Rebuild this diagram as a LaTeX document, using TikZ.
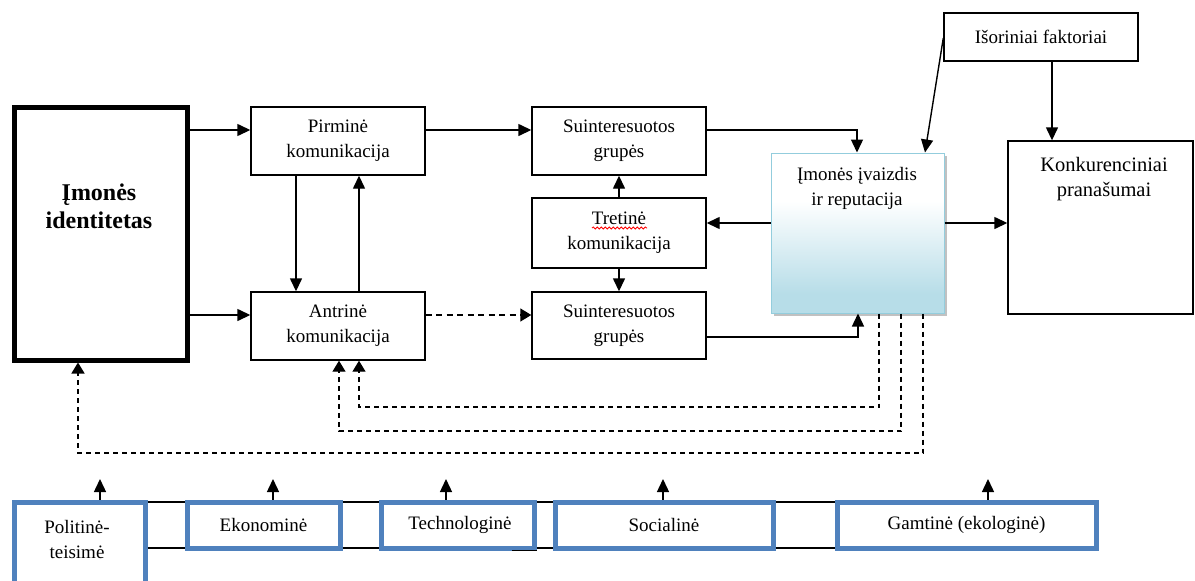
\documentclass[tikz,border=0pt]{standalone}
\usepackage{fontspec}
\setmainfont{Liberation Serif}
\usetikzlibrary{arrows.meta,shadows,decorations.pathmorphing}
\definecolor{frameblue}{HTML}{4F81BD}
\definecolor{imgblue}{HTML}{B7DDE8}
\definecolor{imgedge}{HTML}{93CDDD}
% pale-to-blue fill of the image box (white top, blue lower part)
\pgfdeclareverticalshading{imgfade}{100bp}{color(0bp)=(imgblue); color(31bp)=(imgblue); color(60bp)=(white); color(100bp)=(white)}
\tikzset{
  txt/.style={font=\fontsize{19pt}{25pt}\selectfont, align=center, inner sep=0pt},
  box/.style={txt, draw, line width=1.4pt, minimum width=174pt, minimum height=68pt},
  idbox/.style={draw, line width=5pt, minimum width=173pt, minimum height=253pt, inner sep=0pt},
  idtext/.style={font=\fontsize{24pt}{28pt}\selectfont\bfseries, align=center, inner sep=0pt},
  imgbox/.style={draw=imgedge, line width=1pt, shading=imgfade, minimum width=173pt, minimum height=160pt, inner sep=0pt,
    drop shadow={shadow xshift=3pt, shadow yshift=-3pt, fill=black!40, opacity=0.6}},
  envbox/.style={txt, draw=frameblue, line width=5pt, minimum height=46pt},
  arr/.style={line width=1.4pt, -{Triangle[length=13pt,width=12pt]}},
  darr/.style={line width=1.4pt, dash pattern=on 5pt off 4pt, -{Triangle[length=11pt,width=13pt]}},
  link/.style={line width=1.2pt},
  spell/.style={draw=red, line width=0.8pt, decorate, decoration={snake, segment length=4pt, amplitude=1.1pt}}
}
\begin{document}
\begin{tikzpicture}[x=1pt, y=-1pt]
\clip (0,0) rectangle (1195,581);
\fill[white] (0,0) rectangle (1195,581);

% identity block
\node[idbox] (id) at (100.5,233.5) {};
\node[idtext] (idt) at (99,206) {Įmonės\\identitetas};

% communication levels
\node[box] (prim) at (338,141) {Pirminė\\komunikacija};
\node[box] (antr) at (338,326) {Antrinė\\komunikacija};
\node[box] (sg1) at (619,141) {Suinteresuotos\\grupės};
\node[box, minimum height=70pt] (tret) at (619,233) {Tretinė\\komunikacija};
\node[box, minimum height=67pt] (sg2) at (619,325.5) {Suinteresuotos\\grupės};
\draw[spell] (592,228) -- (647,228);

% image and reputation
\node[imgbox] (img) at (857.5,233) {};
\node[txt] (imgt) at (857,188) {Įmonės įvaizdis\\ir reputacija};

% external factors and competitive advantages
\node[box, minimum width=194pt, minimum height=48pt] (isor) at (1041,37) {Išoriniai faktoriai};
\node[box, minimum width=185pt, minimum height=173pt] (konk) at (1100.5,227.5) {};
\node[txt, font=\fontsize{20.5pt}{25pt}\selectfont] (konkt) at (1104,179) {Konkurenciniai\\pranašumai};

% environment factors
\node[envbox, minimum width=131pt, minimum height=110pt] (pol) at (79.5,557) {};
\node[txt] (polt) at (77,539) {Politinė-\\teisimė};
\node[envbox, minimum width=153pt] (eko) at (263.5,525) {Ekonominė};
\node[envbox, minimum width=153pt] (tech) at (457.5,525) {\hspace*{5pt}Technologinė};
\node[envbox, minimum width=218pt] (soc) at (664,525) {Socialinė};
\node[envbox, minimum width=259pt] (gam) at (966.5,525) {Gamtinė (ekologinė)};

% links between the environment boxes
\foreach \a/\b in {pol/eko, eko/tech, tech/soc, soc/gam}{
  \draw[link] (\a.east |- 0,502) -- (\b.west |- 0,502);
  \draw[link] (\a.east |- 0,548) -- (\b.west |- 0,548);
}
\draw[link] (tech.south -| 512,0) -- (tech.south east);

% short arrows above the environment boxes
\coordinate (u1) at (100,479);
\coordinate (u2) at (273,479);
\coordinate (u3) at (446,479);
\coordinate (u4) at (663,479);
\coordinate (u5) at (988,479);
\draw[arr] (pol.north -| u1) -- (u1);
\draw[arr] (eko.north -| u2) -- (u2);
\draw[arr] (tech.north -| u3) -- (u3);
\draw[arr] (soc.north -| u4) -- (u4);
\draw[arr] (gam.north -| u5) -- (u5);

% main flow
\draw[arr] (id.east |- 0,130) -- (prim.west |- 0,130);
\draw[arr] (id.east |- 0,315) -- (antr.west |- 0,315);
\draw[arr] (prim.south -| 296,0) -- (antr.north -| 296,0);
\draw[arr] (antr.north -| 359,0) -- (prim.south -| 359,0);
\draw[arr] (prim.east |- 0,130) -- (sg1.west |- 0,130);
\draw[darr, dash pattern=on 6pt off 4.5pt] (antr.east |- 0,315) -- (sg2.west |- 0,315);
\draw[arr] (tret.north) -- (sg1.south);
\draw[arr] (tret.south) -- (sg2.north);
\draw[arr] (img.west |- 0,223) -- (tret.east |- 0,223);
\draw[arr] (sg1.east |- 0,130) -| (img.north -| 857,0);
\draw[arr] (sg2.east |- 0,337) -| (img.south -| 858,0);
\draw[arr] (isor.west |- 0,38) -- (img.north -| 925,0);
\draw[arr] (isor.south -| 1052,0) -- (konk.north -| 1052,0);
\draw[arr] (img.east |- 0,223) -- (konk.west |- 0,223);

% feedback loops
\draw[darr] (img.south -| 879,0) -- (879,407) -| (antr.south -| 359,0);
\draw[darr] (img.south -| 901,0) -- (901,431) -| (antr.south -| 339,0);
\draw[darr] (img.south -| 923,0) -- (923,453) -| (id.south -| 78,0);
\end{tikzpicture}
\end{document}
